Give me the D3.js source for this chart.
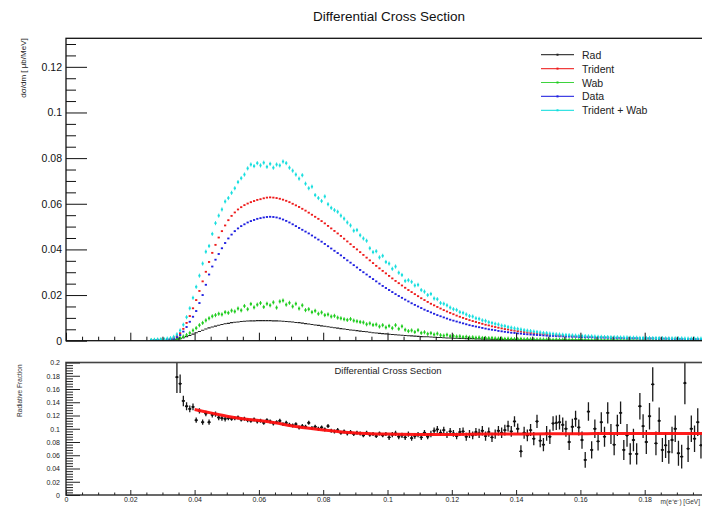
<!DOCTYPE html>
<html><head><meta charset="utf-8">
<script src="https://cdn.jsdelivr.net/npm/d3@7"></script>
<style>
body{margin:0;background:#fff}
svg{display:block}
text{font-family:"Liberation Sans",Arial,Helvetica,sans-serif}
</style>
</head><body>
<svg id="c" width="702" height="506"></svg>
<script>
// ---------- DATA ----------
const binStart = 0.026, binWidth = 0.001;   // histogram bins 0.026 .. 0.199
const radVals = [
0.0001,0.0001,0.0001,0.0001,
0.0001,0.0002,0.0002,0.0004,0.0006,0.0009,0.0013,0.0018,0.0023,0.0029,
0.0035,0.004,0.0046,0.0051,0.0056,0.006,0.0064,0.0068,0.0071,0.0074,
0.0076,0.0079,0.0081,0.0082,0.0084,0.0085,0.0086,0.0087,0.0087,0.0088,
0.0088,0.0088,0.0088,0.0088,0.0087,0.0087,0.0086,0.0085,0.0084,0.0083,
0.0082,0.008,0.0079,0.0077,0.0075,0.0073,0.0071,0.0069,0.0067,0.0065,
0.0063,0.0061,0.0059,0.0057,0.0055,0.0053,0.0051,0.0049,0.0047,0.0046,
0.0044,0.0042,0.004,0.0039,0.0037,0.0035,0.0034,0.0032,0.0031,0.003,
0.0028,0.0027,0.0026,0.0025,0.0024,0.0023,0.0022,0.0021,0.002,0.0019,
0.0018,0.0017,0.0017,0.0016,0.0015,0.0014,0.0014,0.0013,0.0012,0.0012,
0.0011,0.0011,0.001,0.001,0.0009,0.0009,0.0009,0.0008,0.0008,0.0007,
0.0007,0.0007,0.0006,0.0006,0.0006,0.0006,0.0005,0.0005,0.0005,0.0005,
0.0004,0.0004,0.0004,0.0004,0.0004,0.0004,0.0004,0.0003,0.0003,0.0003,
0.0003,0.0003,0.0003,0.0003,0.0003,0.0003,0.0003,0.0003,0.0003,0.0003,
0.0003,0.0003,0.0002,0.0002,0.0002,0.0002,0.0002,0.0002,0.0002,0.0002,
0.0002,0.0002,0.0002,0.0002,0.0002,0.0002,0.0002,0.0002,0.0002,0.0002,
0.0002,0.0002,0.0001,0.0001,0.0001,0.0001,0.0001,0.0001,0.0001,0.0001,
0.0001,0.0001,0.0001,0.0001,0.0001,0.0001,0.0001,0.0001,0.0001,0.0001];
const tridentVals = [
0.0002,0.0003,0.0003,0.0004,
0.0005,0.0006,0.0008,0.0012,0.002,0.0033,0.0052,0.0078,0.0108,0.0142,
0.0178,0.0218,0.026,0.0302,0.0345,0.0385,0.042,0.0452,0.048,0.0505,
0.0528,0.0547,0.0562,0.0575,0.0585,0.0594,0.0601,0.0607,0.0612,0.0617,
0.062,0.0624,0.0627,0.0628,0.0627,0.0625,0.0622,0.0618,0.0613,0.0607,
0.06,0.0593,0.0586,0.0578,0.057,0.0561,0.0552,0.0543,0.0534,0.0524,
0.0514,0.0503,0.0492,0.0481,0.047,0.0459,0.0447,0.0435,0.0423,0.0411,
0.04,0.0388,0.0376,0.0364,0.0352,0.034,0.0328,0.0317,0.0306,0.0295,
0.0284,0.0273,0.0262,0.0252,0.0242,0.0232,0.0222,0.0213,0.0204,0.0195,
0.0186,0.0178,0.017,0.0162,0.0155,0.0148,0.0141,0.0134,0.0128,0.0122,
0.0116,0.011,0.0105,0.01,0.0095,0.009,0.0086,0.0082,0.0078,0.0074,
0.007,0.0067,0.0063,0.006,0.0057,0.0054,0.0051,0.0049,0.0046,0.0044,
0.0042,0.004,0.0038,0.0036,0.0034,0.0032,0.0031,0.0029,0.0028,0.0027,
0.0025,0.0024,0.0023,0.0022,0.0021,0.0021,0.002,0.0019,0.0018,0.0018,
0.0017,0.0017,0.0016,0.0016,0.0015,0.0015,0.0014,0.0014,0.0014,0.0013,
0.0013,0.0013,0.0012,0.0012,0.0012,0.0011,0.0011,0.0011,0.0011,0.001,
0.001,0.001,0.001,0.001,0.0009,0.0009,0.0009,0.0009,0.0009,0.0009,
0.0008,0.0008,0.0008,0.0008,0.0008,0.0008,0.0007,0.0007,0.0007,0.0007];
const wabVals = [
0.0001,0.0001,0.0002,0.0002,
0.0002,0.0003,0.0003,0.0005,0.0008,0.0012,0.0018,0.0025,0.0034,0.0045,
0.0055,0.0068,0.0078,0.0089,0.0098,0.0107,0.0112,0.0118,0.0115,0.0125,
0.0122,0.0132,0.0128,0.0141,0.0133,0.0152,0.0138,0.0161,0.0146,0.0158,
0.0165,0.0148,0.0162,0.0155,0.0168,0.0145,0.0172,0.0176,0.0158,0.0166,
0.015,0.0162,0.0141,0.0155,0.0134,0.0138,0.0125,0.0131,0.0118,0.0124,
0.0112,0.0115,0.0106,0.0109,0.0101,0.0098,0.0094,0.0091,0.0095,0.0088,
0.0085,0.0082,0.008,0.0072,0.0076,0.0069,0.0071,0.0062,0.0068,0.0058,
0.0065,0.0055,0.0068,0.0052,0.0063,0.0048,0.0042,0.0045,0.0038,0.0046,
0.0034,0.0037,0.003,0.0033,0.0027,0.0031,0.0024,0.0022,0.0026,0.002,
0.0021,0.0018,0.0019,0.0016,0.0017,0.0014,0.0015,0.0013,0.0014,0.0012,
0.0012,0.0011,0.0012,0.001,0.0009,0.001,0.0008,0.0009,0.0008,0.0007,
0.0007,0.0008,0.0006,0.0007,0.0006,0.0006,0.0005,0.0006,0.0005,0.0005,
0.0005,0.0004,0.0005,0.0004,0.0004,0.0004,0.0003,0.0004,0.0003,0.0003,
0.0003,0.0003,0.0003,0.0002,0.0003,0.0002,0.0002,0.0002,0.0002,0.0002,
0.0002,0.0002,0.0002,0.0001,0.0002,0.0001,0.0001,0.0001,0.0001,0.0001,
0.0001,0.0001,0.0001,0.0001,0.0001,0.0001,0.0001,0.0001,0.0001,0.0001,
0.0001,0.0001,0.0001,0.0001,0.0001,0.0001,0.0001,0.0001,0.0001,0.0001];
const dataVals = [
0.0002,0.0002,0.0003,0.0003,
0.0004,0.0005,0.0006,0.0008,0.0015,0.0025,0.004,0.006,0.0083,0.0105,
0.013,0.0165,0.02,0.0245,0.029,0.0325,0.0355,0.038,0.0405,0.0428,
0.0448,0.0465,0.048,0.0492,0.0502,0.051,0.0518,0.0524,0.0529,0.0534,
0.0537,0.054,0.0542,0.0543,0.0542,0.054,0.0536,0.0531,0.0525,0.0518,
0.051,0.0502,0.0494,0.0486,0.0478,0.047,0.0461,0.0452,0.0443,0.0434,
0.0424,0.0414,0.0404,0.0394,0.0384,0.0374,0.0363,0.0352,0.0342,0.0331,
0.0321,0.031,0.03,0.029,0.028,0.027,0.026,0.025,0.024,0.0231,
0.0222,0.0213,0.0204,0.0196,0.0188,0.018,0.0172,0.0164,0.0157,0.015,
0.0143,0.0136,0.013,0.0124,0.0118,0.0112,0.0107,0.0102,0.0097,0.0092,
0.0088,0.0084,0.008,0.0076,0.0072,0.0068,0.0065,0.0062,0.0059,0.0056,
0.0053,0.005,0.0048,0.0046,0.0043,0.0041,0.0039,0.0037,0.0035,0.0034,
0.0032,0.0031,0.0029,0.0028,0.0027,0.0026,0.0025,0.0024,0.0023,0.0022,
0.0021,0.0021,0.002,0.0019,0.0019,0.0018,0.0018,0.0017,0.0017,0.0016,
0.0016,0.0015,0.0015,0.0015,0.0014,0.0014,0.0014,0.0013,0.0013,0.0013,
0.0012,0.0012,0.0012,0.0012,0.0011,0.0011,0.0011,0.0011,0.001,0.001,
0.001,0.001,0.001,0.0009,0.0009,0.0009,0.0009,0.0009,0.0008,0.0008,
0.0008,0.0008,0.0008,0.0008,0.0007,0.0007,0.0007,0.0007,0.0007,0.0007];
const sumVals = [
0.0003,0.0004,0.0005,0.0006,
0.0007,0.0009,0.0011,0.0017,0.0028,0.0045,0.007,0.0103,0.0142,0.0188,
0.0236,0.0285,0.0338,0.039,0.0415,0.0468,0.0515,0.0548,0.0575,0.061,
0.0625,0.0648,0.0668,0.0695,0.0712,0.0728,0.0755,0.0772,0.0765,0.0778,
0.0768,0.078,0.0762,0.0775,0.0758,0.0772,0.0768,0.0785,0.0778,0.0758,
0.0745,0.0728,0.071,0.0725,0.0688,0.0668,0.0675,0.0638,0.0625,0.0612,
0.0632,0.0598,0.0582,0.0572,0.0565,0.0548,0.0535,0.0518,0.0505,0.0482,
0.0485,0.0462,0.0448,0.0438,0.0405,0.0388,0.0392,0.0365,0.0372,0.0345,
0.0338,0.0315,0.0325,0.0298,0.0288,0.0262,0.0265,0.0258,0.0242,0.0245,
0.0222,0.0215,0.02,0.0205,0.0185,0.0182,0.0165,0.0162,0.0155,0.0145,
0.0138,0.0135,0.0125,0.0122,0.0115,0.0108,0.0106,0.0098,0.0096,0.0089,
0.0087,0.0081,0.0078,0.0074,0.0071,0.0066,0.0064,0.006,0.0057,0.0054,
0.0052,0.0049,0.0046,0.0044,0.0042,0.004,0.0038,0.0036,0.0034,0.0033,
0.0031,0.003,0.0028,0.0027,0.0026,0.0025,0.0024,0.0023,0.0022,0.0021,
0.0021,0.002,0.0019,0.0019,0.0018,0.0017,0.0017,0.0016,0.0016,0.0015,
0.0015,0.0015,0.0014,0.0014,0.0014,0.0013,0.0013,0.0013,0.0012,0.0012,
0.0012,0.0012,0.0011,0.0011,0.0011,0.0011,0.001,0.001,0.001,0.001,
0.001,0.001,0.0009,0.0009,0.0009,0.0009,0.0009,0.0009,0.0008,0.0008];
// typical statistical error per series (dσ/dm units)
const seriesErr = [0.00005, 0.0002, 0.0009, 0.0002, 0.0009];
const seriesNames = ["Rad", "Trident", "Wab", "Data", "Trident + Wab"];

// ratio panel (bins 0.034 .. 0.199)
const ratioStart = 0.034;
const ratioVals = [
0.178,0.168,0.142,0.134,0.13,0.133,
0.113,0.127,0.11,0.123,0.11,0.121,0.122,0.117,0.116,0.115,
0.116,0.115,0.116,0.117,0.114,0.115,0.113,0.112,0.114,0.111,
0.112,0.109,0.113,0.111,0.108,0.11,0.112,0.107,0.109,0.106,
0.105,0.107,0.102,0.104,0.103,0.109,0.101,0.103,0.1,0.102,
0.099,0.104,0.097,0.096,0.098,0.094,0.096,0.093,0.095,0.092,
0.094,0.093,0.09,0.094,0.091,0.092,0.089,0.093,0.09,0.092,
0.087,0.091,0.093,0.088,0.09,0.087,0.092,0.086,0.089,0.091,
0.087,0.094,0.088,0.092,0.097,0.099,0.094,0.098,0.091,0.096,
0.093,0.089,0.095,0.096,0.088,0.092,0.09,0.095,0.093,0.097,
0.089,0.095,0.087,0.092,0.097,0.094,0.098,0.104,0.096,0.111,
0.1,0.066,0.094,0.09,0.098,0.085,0.111,0.082,0.076,0.093,
0.088,0.108,0.109,0.11,0.106,0.1,0.08,0.103,0.115,0.102,
0.083,0.053,0.126,0.068,0.1,0.081,0.11,0.088,0.124,0.092,
0.076,0.105,0.124,0.068,0.09,0.062,0.083,0.062,0.134,0.104,
0.08,0.119,0.167,0.078,0.112,0.068,0.075,0.065,0.083,0.1,
0.063,0.058,0.169,0.07,0.1,0.085,0.11,0.075,0.095,0.09];
const ratioErr = [
0.024,0.014,0.008,0.006,0.005,0.005,
0.004,0.004,0.004,0.004,0.004,0.004,0.004,0.004,0.004,0.004,
0.003,0.003,0.003,0.003,0.003,0.003,0.003,0.003,0.003,0.003,
0.003,0.003,0.003,0.003,0.003,0.003,0.003,0.003,0.003,0.003,
0.003,0.003,0.003,0.003,0.003,0.003,0.003,0.003,0.003,0.003,
0.003,0.003,0.003,0.003,0.003,0.003,0.003,0.003,0.003,0.003,
0.003,0.003,0.003,0.003,0.003,0.003,0.003,0.003,0.003,0.003,
0.004,0.004,0.004,0.004,0.004,0.004,0.004,0.004,0.004,0.004,
0.004,0.004,0.004,0.005,0.005,0.005,0.005,0.005,0.005,0.005,
0.005,0.005,0.006,0.006,0.006,0.006,0.006,0.006,0.007,0.007,
0.007,0.007,0.007,0.007,0.007,0.008,0.008,0.008,0.008,0.008,
0.008,0.009,0.009,0.009,0.009,0.01,0.01,0.01,0.01,0.011,
0.011,0.011,0.011,0.011,0.011,0.012,0.012,0.012,0.012,0.012,
0.013,0.012,0.014,0.013,0.014,0.014,0.015,0.015,0.016,0.015,
0.016,0.016,0.017,0.015,0.017,0.016,0.017,0.016,0.02,0.018,
0.018,0.02,0.026,0.018,0.02,0.018,0.019,0.018,0.02,0.02,
0.019,0.018,0.032,0.02,0.02,0.02,0.021,0.02,0.021,0.021];
// fit curve
const fitX = [0.040,0.045,0.050,0.055,0.060,0.065,0.070,0.075,0.080,0.085,0.090,0.095,0.100,0.110,0.120,0.130,0.140,0.150,0.160,0.170,0.180,0.190,0.200];
const fitY = [0.129,0.124,0.119,0.115,0.1125,0.109,0.1045,0.101,0.098,0.0955,0.0935,0.0925,0.092,0.0915,0.0915,0.092,0.092,0.0925,0.0925,0.093,0.093,0.093,0.093];

const xTickVals = [0, 0.02, 0.04, 0.06, 0.08, 0.1, 0.12, 0.14, 0.16, 0.18];
const yTopTickVals = [0, 0.02, 0.04, 0.06, 0.08, 0.1, 0.12];
const yBotTickVals = [0, 0.02, 0.04, 0.06, 0.08, 0.1, 0.12, 0.14, 0.16, 0.18, 0.2];
const titleText = "Differential Cross Section";
const yTopTitle = "dσ/dm [ μb/MeV]";
const yBotTitle = "Radiative Fraction";
const xTitle = "m(e⁺e⁻) [GeV]";

// ---------- STYLE ----------
const colors = ["#222222", "#ee1c1c", "#1ccc1c", "#2020e0", "#14dede"];
const font = '"Liberation Sans",Arial,Helvetica,sans-serif';

// ---------- LAYOUT ----------
const svg = d3.select("#c");
svg.append("rect").attr("width", 702).attr("height", 506).attr("fill", "#fff");
const x = d3.scaleLinear().domain([0, 0.2]).range([66, 709]);
const yT = d3.scaleLinear().domain([0, 0.1325]).range([340.7, 38.3]);
const yB = d3.scaleLinear().domain([0, 0.2]).range([495, 362.5]);

const defs = svg.append("defs");
defs.append("clipPath").attr("id", "clipT").append("rect")
  .attr("x", x(0)).attr("y", yT.range()[1]).attr("width", x(0.2) - x(0)).attr("height", yT.range()[0] - yT.range()[1]);
defs.append("clipPath").attr("id", "clipB").append("rect")
  .attr("x", x(0)).attr("y", yB.range()[1]).attr("width", x(0.2) - x(0)).attr("height", yB.range()[0] - yB.range()[1]);

// title
svg.append("text").attr("x", 389).attr("y", 21).attr("text-anchor", "middle")
  .attr("font-size", 13.5).attr("fill", "#111").text(titleText);

// ---------- TOP PANEL ----------
const gT = svg.append("g").attr("clip-path", "url(#clipT)");
const allSeries = [radVals, tridentVals, wabVals, dataVals, sumVals];
allSeries.forEach((vals, si) => {
  const g = gT.append("g").attr("stroke", colors[si]).attr("fill", colors[si]);
  const pts = vals.map((v, i) => ({c: binStart + (i + 0.5) * binWidth, lo: binStart + i * binWidth, v, e: seriesErr[si]}));
  if (si === 0) {
    g.selectAll("line.h").data(pts).join("line")
      .attr("x1", d => x(d.lo)).attr("x2", d => x(d.lo + binWidth))
      .attr("y1", d => yT(d.v)).attr("y2", d => yT(d.v)).attr("stroke-width", 1.1);
  } else {
    g.selectAll("line.v").data(pts).join("line")
      .attr("x1", d => x(d.c)).attr("x2", d => x(d.c))
      .attr("y1", d => yT(d.v - d.e)).attr("y2", d => yT(d.v + d.e)).attr("stroke-width", 0.9);
    g.selectAll("rect").data(pts).join("rect")
      .attr("x", d => x(d.c) - 1.1).attr("y", d => yT(d.v) - 0.9)
      .attr("width", 2.2).attr("height", 1.8).attr("stroke", "none");
  }
});

// frame
svg.append("rect").attr("x", x(0)).attr("y", yT.range()[1]).attr("width", x(0.2) - x(0))
  .attr("height", yT.range()[0] - yT.range()[1]).attr("fill", "none").attr("stroke", "#111").attr("stroke-width", 1.3);

// y axis top
const yTopMinor = d3.range(0, 0.1326, 0.005).filter(v => Math.abs(v / 0.02 - Math.round(v / 0.02)) > 1e-6);
const axYT = svg.append("g").attr("transform", `translate(${x(0)},0)`)
  .call(d3.axisLeft(yT).tickValues(yTopTickVals).tickSize(-21).tickPadding(4).tickFormat(d => d3.format("")(+d.toFixed(2))));
axYT.select(".domain").remove();
axYT.selectAll("line").attr("stroke", "#111");
axYT.selectAll("text").attr("font-size", 10.5).attr("font-family", font).attr("fill", "#111");
const axYTm = svg.append("g").attr("transform", `translate(${x(0)},0)`)
  .call(d3.axisLeft(yT).tickValues(yTopMinor).tickSize(-10).tickFormat(""));
axYTm.select(".domain").remove();
axYTm.selectAll("line").attr("stroke", "#111");

// x axis top (no labels)
const xMinor = d3.range(0, 0.2001, 0.005).filter(v => Math.abs(v / 0.02 - Math.round(v / 0.02)) > 1e-6);
const axXT = svg.append("g").attr("transform", `translate(0,${yT(0)})`)
  .call(d3.axisBottom(x).tickValues(xTickVals).tickSize(-8).tickFormat(""));
axXT.select(".domain").remove(); axXT.selectAll("line").attr("stroke", "#111");
const axXTm = svg.append("g").attr("transform", `translate(0,${yT(0)})`)
  .call(d3.axisBottom(x).tickValues(xMinor).tickSize(-4).tickFormat(""));
axXTm.select(".domain").remove(); axXTm.selectAll("line").attr("stroke", "#111");

// y title top
svg.append("text").attr("transform", `translate(25.5,${yT.range()[1]}) rotate(-90)`)
  .attr("text-anchor", "end").attr("font-size", 8).attr("fill", "#222").text(yTopTitle);

// legend
const leg = d3.scalePoint().domain(seriesNames).range([54.7, 110.3]);
const lg = svg.append("g");
seriesNames.forEach((n, i) => {
  const yy = leg(n);
  lg.append("line").attr("x1", 541).attr("x2", 574).attr("y1", yy).attr("y2", yy)
    .attr("stroke", colors[i]).attr("stroke-width", 1.2).attr("opacity", 0.85);
  lg.append("rect").attr("x", 556.5).attr("y", yy - 1).attr("width", 2).attr("height", 2).attr("fill", colors[i]);
  lg.append("text").attr("x", 582).attr("y", yy + 4).attr("font-size", 10.5).attr("fill", "#222").text(n);
});

// ---------- BOTTOM PANEL ----------
const gB = svg.append("g").attr("clip-path", "url(#clipB)");
const rpts = ratioVals.map((v, i) => ({c: ratioStart + (i + 0.5) * binWidth, lo: ratioStart + i * binWidth, v, e: ratioErr[i]}));
gB.selectAll("line.v").data(rpts).join("line")
  .attr("x1", d => x(d.c)).attr("x2", d => x(d.c))
  .attr("y1", d => yB(d.v - d.e)).attr("y2", d => yB(d.v + d.e))
  .attr("stroke", "#1a1a1a").attr("stroke-width", 1.3);
gB.selectAll("line.h").data(rpts).enter().append("line")
  .attr("x1", d => x(d.lo)).attr("x2", d => x(d.lo + binWidth))
  .attr("y1", d => yB(d.v)).attr("y2", d => yB(d.v))
  .attr("stroke", "#1a1a1a").attr("stroke-width", 1.3);
gB.selectAll("circle").data(rpts).join("circle")
  .attr("cx", d => x(d.c)).attr("cy", d => yB(d.v)).attr("r", 1.2).attr("fill", "#111");
const fitPts = fitX.map((fx, i) => [fx, fitY[i]]);
gB.append("path").datum(fitPts)
  .attr("d", d3.line().x(d => x(d[0])).y(d => yB(d[1])).curve(d3.curveMonotoneX))
  .attr("fill", "none").attr("stroke", "#ff1010").attr("stroke-width", 3).attr("opacity", 0.95);

svg.append("rect").attr("x", x(0)).attr("y", yB.range()[1]).attr("width", x(0.2) - x(0))
  .attr("height", yB.range()[0] - yB.range()[1]).attr("fill", "none").attr("stroke", "#444").attr("stroke-width", 1.6);

svg.append("text").attr("x", 388).attr("y", 374).attr("text-anchor", "middle")
  .attr("font-size", 9.5).attr("fill", "#222").text(titleText);

const yBotMinor = d3.range(0, 0.2001, 0.004).filter(v => Math.abs(v / 0.02 - Math.round(v / 0.02)) > 1e-6);
const axYB = svg.append("g").attr("transform", `translate(${x(0)},0)`)
  .call(d3.axisLeft(yB).tickValues(yBotTickVals).tickSize(-14).tickPadding(6).tickFormat(d => d3.format("")(+d.toFixed(2))));
axYB.select(".domain").remove(); axYB.selectAll("line").attr("stroke", "#222");
axYB.selectAll("text").attr("font-size", 7).attr("font-family", font).attr("fill", "#222");
const axYBm = svg.append("g").attr("transform", `translate(${x(0)},0)`)
  .call(d3.axisLeft(yB).tickValues(yBotMinor).tickSize(-7).tickFormat(""));
axYBm.select(".domain").remove(); axYBm.selectAll("line").attr("stroke", "#222");

const axXB = svg.append("g").attr("transform", `translate(0,${yB(0)})`)
  .call(d3.axisBottom(x).tickValues(xTickVals).tickSize(-5).tickPadding(2).tickFormat(d => d3.format("")(+d.toFixed(2))));
axXB.select(".domain").remove(); axXB.selectAll("line").attr("stroke", "#222");
axXB.selectAll("text").attr("font-size", 7).attr("font-family", font).attr("fill", "#222");
const axXBm = svg.append("g").attr("transform", `translate(0,${yB(0)})`)
  .call(d3.axisBottom(x).tickValues(xMinor).tickSize(-2.5).tickFormat(""));
axXBm.select(".domain").remove(); axXBm.selectAll("line").attr("stroke", "#222");

svg.append("text").attr("transform", `translate(22,${yB.range()[1] + 2}) rotate(-90)`)
  .attr("text-anchor", "end").attr("font-size", 6.5).attr("fill", "#333").text(yBotTitle);
svg.append("text").attr("x", 700).attr("y", 503.5).attr("text-anchor", "end")
  .attr("font-size", 6.5).attr("fill", "#333").text(xTitle);
</script>
</body></html>
